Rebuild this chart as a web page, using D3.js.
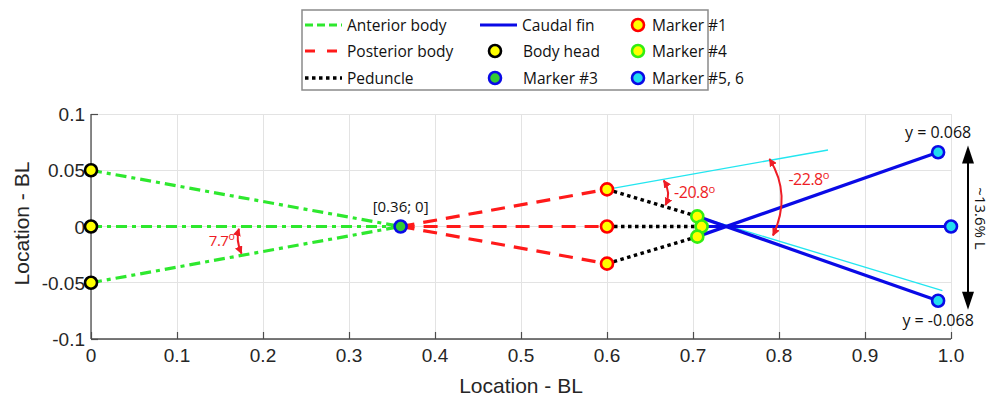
<!DOCTYPE html>
<html>
<head>
<meta charset="utf-8">
<script src="https://cdn.jsdelivr.net/npm/d3@7"></script>
<style>
  body { margin: 0; background: #fff; }
  svg { display: block; }
</style>
</head>
<body>
<svg id="chart" width="990" height="400"></svg>
<script>
// ---- data (body length units) ----
const xTicks = [0, 0.1, 0.2, 0.3, 0.4, 0.5, 0.6, 0.7, 0.8, 0.9, 1.0];
const xTickLabels = ['0', '0.1', '0.2', '0.3', '0.4', '0.5', '0.6', '0.7', '0.8', '0.9', '1.0'];
const yTicks = [0.1, 0.05, 0, -0.05, -0.1];
const yTickLabels = ['0.1', '0.05', '0', '-0.05', '-0.1'];

const bodyHead = [[0, 0.05], [0, 0], [0, -0.05]];
const marker3 = [[0.36, 0]];
const marker1 = [[0.6, 0.033], [0.6, 0], [0.6, -0.033]];
const marker4 = [[0.705, 0.009], [0.71, 0], [0.705, -0.009]];
const marker56 = [[0.985, 0.066], [1.0, 0], [0.985, -0.066]];

const anterior = [[bodyHead[0], marker3[0]], [bodyHead[1], marker3[0]], [bodyHead[2], marker3[0]]];
const posterior = [[marker3[0], marker1[0]], [marker3[0], marker1[1]], [marker3[0], marker1[2]]];
const peduncle = [[marker1[0], marker4[0]], [marker1[1], marker4[1]], [marker1[2], marker4[2]]];
const caudal = [[marker4[0], marker56[2]], [marker4[1], marker56[1]], [marker4[2], marker56[0]]];
const tangents = [[[0.6, 0.033], [0.857, 0.068]], [[0.705, 0.009], [0.99, -0.057]]];

const svg = d3.select('#chart');
const margin = {left: 91, right: 39, top: 114, bottom: 61};
const W = 990, H = 400;

const x = d3.scaleLinear().domain([0, 1]).range([margin.left, W - margin.right]);
const y = d3.scaleLinear().domain([-0.1, 0.1]).range([H - margin.bottom, margin.top]);

const red = '#ee1c25';
const defs = svg.append('defs');
defs.append('marker')
    .attr('id', 'ah')
    .attr('viewBox', '0 0 10 10')
    .attr('refX', 9).attr('refY', 5)
    .attr('markerWidth', 4).attr('markerHeight', 4)
    .attr('orient', 'auto-start-reverse')
    .append('path').attr('d', 'M0,0 L10,5 L0,10 z').attr('fill', red);

// grid
const grid = svg.append('g').attr('stroke', '#e3e3e3').attr('stroke-width', 1)
    .style('shape-rendering', 'crispEdges');
grid.selectAll('line.gx').data(xTicks).enter().append('line')
    .attr('x1', d => x(d)).attr('x2', d => x(d))
    .attr('y1', y(-0.1)).attr('y2', y(0.1));
grid.selectAll('line.gy').data(yTicks).enter().append('line')
    .attr('x1', x(0)).attr('x2', x(1))
    .attr('y1', d => y(d)).attr('y2', d => y(d));

// axes (MATLAB style, ticks inward)
const axisColor = '#4d4d4d';
const xAxis = svg.append('g')
    .attr('transform', `translate(0,${y(-0.1)})`)
    .call(d3.axisTop(x).tickValues(xTicks).tickSize(7).tickFormat(''));
const yAxis = svg.append('g')
    .attr('transform', `translate(${x(0)},0)`)
    .call(d3.axisRight(y).tickValues(yTicks).tickSize(7).tickFormat(''));
[xAxis, yAxis].forEach(a => {
    a.select('.domain').attr('stroke', axisColor).attr('stroke-width', 1.3).attr('d',
        a === xAxis ? `M${x(0)},0H${x(1)}` : `M0,${y(-0.1)}V${y(0.1)}`);
    a.selectAll('.tick line').attr('stroke', axisColor).attr('stroke-width', 1.2);
});

const tickFont = 'Liberation Sans, Arial, sans-serif';
svg.append('g').selectAll('text').data(xTicks).enter().append('text')
    .attr('x', d => x(d)).attr('y', y(-0.1) + 23)
    .attr('text-anchor', 'middle')
    .style('font-family', tickFont).style('font-size', '19px').attr('fill', '#262626')
    .text((d, i) => xTickLabels[i]);
svg.append('g').selectAll('text').data(yTicks).enter().append('text')
    .attr('x', x(0) - 6).attr('y', d => y(d) + 7)
    .attr('text-anchor', 'end')
    .style('font-family', tickFont).style('font-size', '19px').attr('fill', '#262626')
    .text((d, i) => yTickLabels[i]);

svg.append('text')
    .attr('x', (x(0) + x(1)) / 2).attr('y', 393)
    .attr('text-anchor', 'middle')
    .style('font-family', tickFont).style('font-size', '21px').attr('fill', '#262626')
    .text('Location - BL');
svg.append('text')
    .attr('transform', `translate(29,${y(0) - 3}) rotate(-90)`)
    .attr('text-anchor', 'middle')
    .style('font-family', tickFont).style('font-size', '21px').attr('fill', '#262626')
    .text('Location - BL');

// lines
const line = d3.line().x(d => x(d[0])).y(d => y(d[1]));
const series = [
    {name: 'Anterior body', data: anterior, color: '#2ee82e', width: 3.2, dash: '11,5,4,5'},
    {name: 'Posterior body', data: posterior, color: '#ff1a1a', width: 3.2, dash: '14,9'},
    {name: 'Peduncle', data: peduncle, color: '#000', width: 3.5, dash: '3.5,3.5'},
    {name: 'Caudal fin', data: caudal, color: '#0a0ae6', width: 3.2, dash: null}
];
svg.append('g').selectAll('path').data(tangents).enter().append('path')
    .attr('d', line).attr('fill', 'none').attr('stroke', '#22e6f0').attr('stroke-width', 1.3);
series.forEach(s => {
    svg.append('g').selectAll('path').data(s.data).enter().append('path')
        .attr('d', line)
        .attr('fill', 'none')
        .attr('stroke', s.color)
        .attr('stroke-width', s.width)
        .attr('stroke-dasharray', s.dash);
});

// markers
const markerSets = [
    {name: 'Body head', data: bodyHead, stroke: '#000', fill: '#ffff00'},
    {name: 'Marker #3', data: marker3, stroke: '#0a0ae6', fill: '#33cc33'},
    {name: 'Marker #1', data: marker1, stroke: '#ff0000', fill: '#ffff00'},
    {name: 'Marker #4', data: marker4, stroke: '#33ee11', fill: '#ffff00'},
    {name: 'Marker #5, 6', data: marker56, stroke: '#0a0ae6', fill: '#22ddee'}
];
markerSets.forEach(m => {
    svg.append('g').selectAll('circle').data(m.data).enter().append('circle')
        .attr('cx', d => x(d[0])).attr('cy', d => y(d[1]))
        .attr('r', 6).attr('fill', m.fill)
        .attr('stroke', m.stroke).attr('stroke-width', 2.6);
});

// annotations
const annoFont = 'Open Sans, Noto Sans, sans-serif';
function angleText(tx, ty, label, size) {
    const t = svg.append('text').attr('x', tx).attr('y', ty)
        .style('font-family', annoFont).style('font-size', size + 'px').attr('fill', red)
        .style('letter-spacing', '-0.5px');
    t.append('tspan').text(label);
    t.append('tspan').attr('dy', -size * 0.35).style('font-size', (size * 0.7) + 'px').text('o');
}
function curvedArrow(p0, c, p1) {
    svg.append('path')
        .attr('d', `M${p0[0]},${p0[1]} Q${c[0]},${c[1]} ${p1[0]},${p1[1]}`)
        .attr('fill', 'none').attr('stroke', red).attr('stroke-width', 2)
        .attr('marker-start', 'url(#ah)').attr('marker-end', 'url(#ah)');
}
// 7.7 deg
curvedArrow([x(0.172), y(-0.002)], [x(0.168), y(-0.012)], [x(0.175), y(-0.024)]);
angleText(x(0.137), y(-0.017), '7.7', 15);
// -20.8 deg
curvedArrow([x(0.666), y(0.041)], [x(0.675), y(0.030)], [x(0.668), y(0.019)]);
angleText(x(0.678), y(0.025), '-20.8', 16);
// -22.8 deg
curvedArrow([x(0.789), y(0.060)], [x(0.815), y(0.028)], [x(0.793), y(-0.008)]);
angleText(x(0.811), y(0.037), '-22.8', 16);

svg.append('text').attr('x', x(0.36)).attr('y', y(0) - 15)
    .attr('text-anchor', 'middle')
    .style('font-family', annoFont).style('font-size', '15px').attr('fill', '#111')
    .text('[0.36; 0]');
svg.append('text').attr('x', x(0.985)).attr('y', y(0.066) - 14)
    .attr('text-anchor', 'middle')
    .style('font-family', annoFont).style('font-size', '16px').attr('fill', '#111')
    .text('y = 0.068');
svg.append('text').attr('x', x(0.985)).attr('y', y(-0.066) + 25)
    .attr('text-anchor', 'middle')
    .style('font-family', annoFont).style('font-size', '16px').attr('fill', '#111')
    .text('y = -0.068');

// span arrow
const ax = 968, aTop = y(0.072), aBot = y(-0.074);
svg.append('line').attr('x1', ax).attr('x2', ax).attr('y1', aTop + 14).attr('y2', aBot - 14)
    .attr('stroke', '#000').attr('stroke-width', 2);
svg.append('path').attr('d', `M${ax},${aTop} L${ax - 6},${aTop + 18} L${ax + 6},${aTop + 18} Z`).attr('fill', '#000');
svg.append('path').attr('d', `M${ax},${aBot} L${ax - 6},${aBot - 18} L${ax + 6},${aBot - 18} Z`).attr('fill', '#000');
svg.append('text')
    .attr('transform', `translate(975,${y(0) - 8}) rotate(90)`)
    .attr('text-anchor', 'middle')
    .style('font-family', annoFont).style('font-size', '15px').attr('fill', '#111')
    .text('~13.6% L');

// legend
const legend = svg.append('g');
legend.append('rect').attr('x', 302).attr('y', 10).attr('width', 406).attr('height', 80)
    .attr('fill', '#fff').attr('stroke', '#8a8a8a').attr('stroke-width', 1.5);
const rows = [25, 51, 78];
const lineItems = [
    {s: series[0], x0: 305, col: 0, row: 0},
    {s: series[1], x0: 305, col: 0, row: 1},
    {s: series[2], x0: 305, col: 0, row: 2},
    {s: series[3], x0: 480, col: 1, row: 0}
];
lineItems.forEach(it => {
    legend.append('line')
        .attr('x1', it.x0).attr('x2', it.x0 + 37)
        .attr('y1', rows[it.row]).attr('y2', rows[it.row])
        .attr('stroke', it.s.color).attr('stroke-width', it.s.width)
        .attr('stroke-dasharray', it.s.name === 'Anterior body' ? '8,4' : (it.s.name === 'Posterior body' ? '10,12' : it.s.dash));
    legend.append('text').attr('x', it.x0 + 42).attr('y', rows[it.row] + 6)
        .style('font-family', annoFont).style('font-size', '15.5px').attr('fill', '#111')
        .text(it.s.name);
});
const markerItems = [
    {m: markerSets[0], cx: 495, tx: 523, row: 1},
    {m: markerSets[1], cx: 495, tx: 523, row: 2},
    {m: markerSets[2], cx: 638, tx: 652, row: 0},
    {m: markerSets[3], cx: 638, tx: 652, row: 1},
    {m: markerSets[4], cx: 638, tx: 652, row: 2}
];
markerItems.forEach(it => {
    legend.append('circle').attr('cx', it.cx).attr('cy', rows[it.row])
        .attr('r', 6).attr('fill', it.m.fill)
        .attr('stroke', it.m.stroke).attr('stroke-width', 2.6);
    legend.append('text').attr('x', it.tx).attr('y', rows[it.row] + 6)
        .style('font-family', annoFont).style('font-size', '15.5px').attr('fill', '#111')
        .text(it.m.name);
});
</script>
</body>
</html>
